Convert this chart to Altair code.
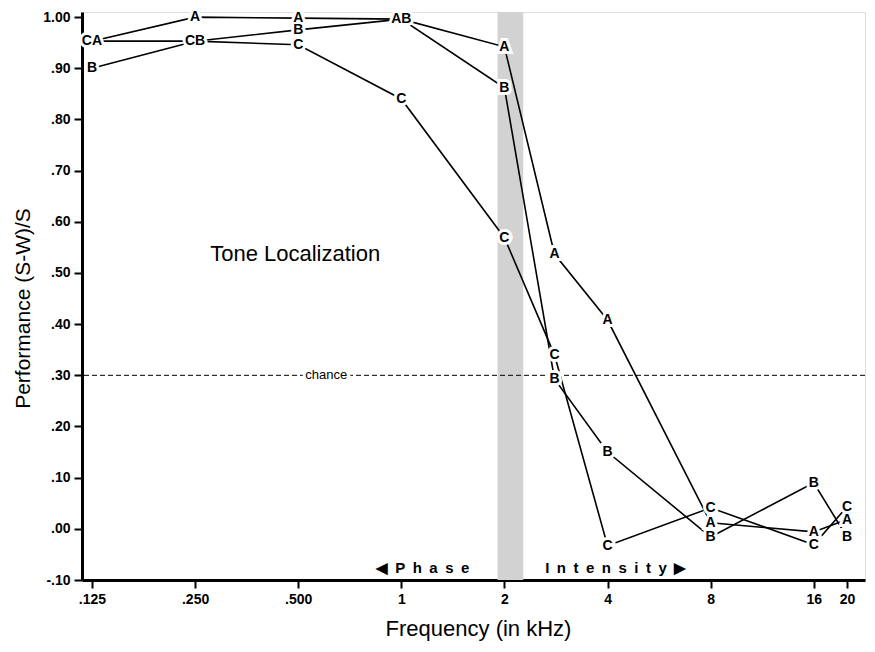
import altair as alt
import pandas as pd

FREQS = [0.125, 0.25, 0.5, 1, 2, 2.8, 4, 8, 16, 20]
SERIES_A = [0.953, 1.00, 0.998, 0.996, 0.942, 0.537, 0.408, 0.012, -0.006, 0.018]
SERIES_B = [0.900, 0.953, 0.975, 0.996, 0.862, 0.293, 0.150, -0.016, 0.090, -0.016]
SERIES_C = [0.953, 0.953, 0.946, 0.840, 0.569, 0.340, -0.033, 0.041, -0.031, 0.043]
SERIES = {"A": SERIES_A, "B": SERIES_B, "C": SERIES_C}
LABEL_ORDER = ["C", "A", "B"]

X_TICKS = [0.125, 0.25, 0.5, 1, 2, 4, 8, 16, 20]
Y_TICKS = [-0.1, 0.0, 0.1, 0.2, 0.3, 0.4, 0.5, 0.6, 0.7, 0.8, 0.9, 1.0]
X_DOMAIN = [0.1169, 22.58]
Y_DOMAIN = [-0.10, 1.01]
BAND = [1.91, 2.27]
CHANCE = 0.30

FONT = "Liberation Sans"
EN = "\u2002"

line_df = pd.DataFrame(
    [{"series": s, "freq": f, "perf": v} for s, vals in SERIES.items() for f, v in zip(FREQS, vals)]
)

rows = []
for i, f in enumerate(FREQS):
    groups = {}
    for name in LABEL_ORDER:
        groups.setdefault(SERIES[name][i], []).append(name)
    for v, names in groups.items():
        rows.append({"freq": f, "perf": v, "label": "".join(names)})
label_df = pd.DataFrame(rows)

xscale = alt.Scale(type="log", base=2, domain=X_DOMAIN, nice=False, zero=False)
yscale = alt.Scale(domain=Y_DOMAIN, nice=False, zero=False)

x_axis = alt.Axis(
    values=X_TICKS,
    labelExpr="datum.value < 1 ? replace(format(datum.value, '.3f'), '0.', '.') : format(datum.value, 'd')",
    title="Frequency (in kHz)",
    grid=False, tickSize=8, tickWidth=2, tickColor="black",
    domainWidth=3, domainColor="black",
    labelFont=FONT, labelFontSize=14, labelFontWeight="bold", labelColor="black",
    labelOverlap=False, labelPadding=4, labelFlush=False,
    titleFont=FONT, titleFontSize=22, titleFontWeight="normal", titleColor="black",
    titlePadding=12, titleX=396,
)
y_axis = alt.Axis(
    values=Y_TICKS,
    labelExpr="(datum.value < 0 ? '-' : '') + replace(format(abs(datum.value), '.2f'), '0.', '.')",
    title="Performance (S-W)/S",
    grid=False, tickSize=8, tickWidth=2, tickColor="black",
    domainWidth=3, domainColor="black",
    labelFont=FONT, labelFontSize=14, labelFontWeight="bold", labelColor="black",
    labelOverlap=False, labelPadding=4, labelFlush=False,
    titleFont=FONT, titleFontSize=21, titleFontWeight="normal", titleColor="black",
    titlePadding=9, titleY=296,
)

band = alt.Chart(pd.DataFrame([{"x": BAND[0], "x2": BAND[1], "y": Y_DOMAIN[0], "y2": Y_DOMAIN[1]}])).mark_rect(
    color="#d2d2d2"
).encode(
    x=alt.X("x:Q", scale=xscale, axis=x_axis),
    x2="x2:Q",
    y=alt.Y("y:Q", scale=yscale, axis=y_axis),
    y2="y2:Q",
)

chance_rule = alt.Chart(pd.DataFrame({"perf": [CHANCE]})).mark_rule(
    color="black", strokeWidth=1, strokeDash=[5, 3]
).encode(y=alt.Y("perf:Q", scale=yscale))

chance_df = pd.DataFrame({"freq": [0.604], "perf": [CHANCE], "label": ["chance"]})
chance_halo = alt.Chart(chance_df).mark_text(
    font=FONT, fontSize=13, color="white", stroke="white", strokeWidth=6, baseline="middle"
).encode(x=alt.X("freq:Q", scale=xscale), y=alt.Y("perf:Q", scale=yscale), text="label:N")
chance_text = alt.Chart(chance_df).mark_text(
    font=FONT, fontSize=13, color="black", baseline="middle"
).encode(x=alt.X("freq:Q", scale=xscale), y=alt.Y("perf:Q", scale=yscale), text="label:N")

lines = alt.Chart(line_df).mark_line(color="black", strokeWidth=1.6).encode(
    x=alt.X("freq:Q", scale=xscale),
    y=alt.Y("perf:Q", scale=yscale),
    detail="series:N",
    order="freq:Q",
)

letter_halo = alt.Chart(label_df).mark_text(
    font=FONT, fontSize=14, fontWeight="bold", color="white", stroke="white", strokeWidth=6,
    baseline="middle", align="center"
).encode(x=alt.X("freq:Q", scale=xscale), y=alt.Y("perf:Q", scale=yscale), text="label:N")
letters = alt.Chart(label_df).mark_text(
    font=FONT, fontSize=14, fontWeight="bold", color="black", baseline="middle", align="center"
).encode(x=alt.X("freq:Q", scale=xscale), y=alt.Y("perf:Q", scale=yscale), text="label:N")

title_df = pd.DataFrame({"freq": [0.49], "perf": [0.538], "label": ["Tone Localization"]})
title_text = alt.Chart(title_df).mark_text(
    font=FONT, fontSize=22, color="black", baseline="middle", align="center"
).encode(x=alt.X("freq:Q", scale=xscale), y=alt.Y("perf:Q", scale=yscale), text="label:N")

phase_df = pd.DataFrame({"freq": [1.58], "perf": [-0.076], "label": ["\u25C0" + EN + EN.join("Phase")]})
phase_text = alt.Chart(phase_df).mark_text(
    font=FONT, fontSize=15, fontWeight="bold", color="black", baseline="middle", align="right"
).encode(x=alt.X("freq:Q", scale=xscale), y=alt.Y("perf:Q", scale=yscale), text="label:N")

int_df = pd.DataFrame({"freq": [2.63], "perf": [-0.076], "label": [EN.join("Intensity") + EN + "\u25B6"]})
int_text = alt.Chart(int_df).mark_text(
    font=FONT, fontSize=15, fontWeight="bold", color="black", baseline="middle", align="left"
).encode(x=alt.X("freq:Q", scale=xscale), y=alt.Y("perf:Q", scale=yscale), text="label:N")

chart = alt.layer(
    band, chance_rule, chance_halo, chance_text, lines, letter_halo, letters,
    title_text, phase_text, int_text,
).properties(
    width=783, height=568,
    autosize=alt.AutoSizeParams(type="none"),
    padding={"left": 74, "top": 4, "right": 2, "bottom": 66},
).configure_view(stroke=None).configure(background="white")

chart.save("out.html", embed_options={"renderer": "svg", "actions": False})
